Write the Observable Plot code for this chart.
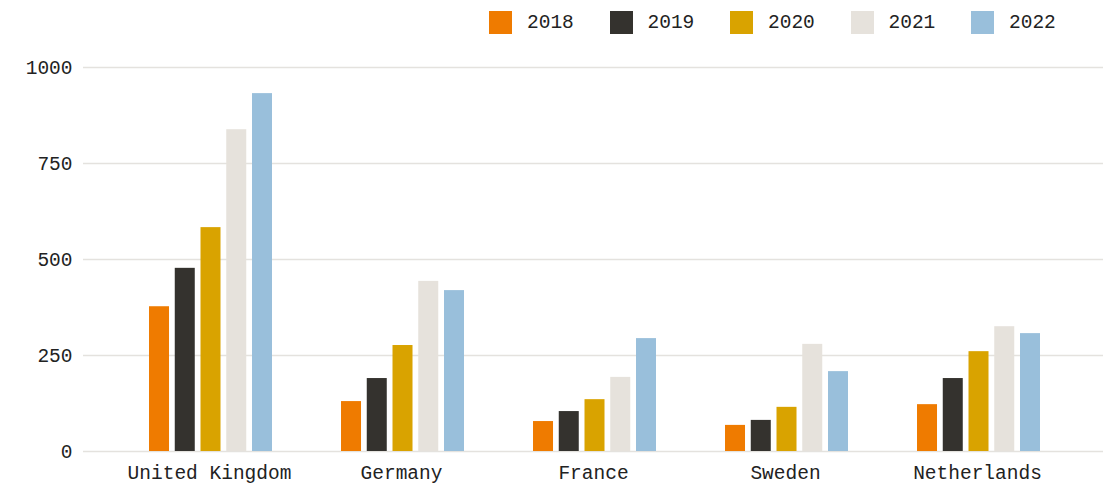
<!DOCTYPE html>
<html>
<head>
<meta charset="utf-8">
<script src="https://cdn.jsdelivr.net/npm/d3@7"></script>
<script src="https://cdn.jsdelivr.net/npm/@observablehq/plot@0.6"></script>
<style>
  html, body { margin: 0; padding: 0; background: #fff; }
  body { width: 1107px; height: 484px; overflow: hidden; font-family: "Liberation Mono", monospace; color: #222; }
  #legend { position: relative; height: 45px; }
  .item { position: absolute; top: 0; height: 45px; display: flex; align-items: center; font-size: 19.5px; }
  .sw { width: 23px; height: 23px; margin-right: 15px; }
</style>
</head>
<body>
<div id="legend"></div>
<div id="chart"></div>
<script>
const countries = ["United Kingdom", "Germany", "France", "Sweden", "Netherlands"];
const years = ["2018", "2019", "2020", "2021", "2022"];
const v2018 = [377, 130, 78, 68, 122];
const v2019 = [477, 190, 104, 81, 190];
const v2020 = [583, 276, 135, 115, 260];
const v2021 = [838, 443, 193, 279, 325];
const v2022 = [932, 419, 294, 208, 307];
const colors = ["#ef7b00", "#34322e", "#d9a300", "#e6e2dc", "#99bfdb"];
const yTicks = [0, 250, 500, 750, 1000];

const series = [v2018, v2019, v2020, v2021, v2022];
const data = years.flatMap((yr, i) => countries.map((c, j) => ({country: c, year: yr, value: series[i][j]})));

// legend
const legend = document.getElementById("legend");
years.forEach((yr, i) => {
  const it = document.createElement("div");
  it.className = "item";
  it.style.left = (489 + i * 120.5) + "px";
  const sw = document.createElement("div");
  sw.className = "sw";
  sw.style.background = colors[i];
  const t = document.createElement("span");
  t.textContent = yr;
  it.appendChild(sw); it.appendChild(t);
  legend.appendChild(it);
});

const W = 1107, ML = 83, MR = 4, PAD = 0.3125;
// outer band for countries (same as Plot's x scale), inner band to dodge years within a country
const outer = d3.scaleBand(countries, [ML, W - MR]).paddingInner(PAD).paddingOuter(PAD);
const inner = d3.scaleBand(years, [0, outer.bandwidth()]).paddingInner(0.223).paddingOuter(0.175).align(0.667);

const barMarks = years.map(yr => Plot.barY(data.filter(d => d.year === yr), {
  x: "country", y: "value", fill: "year",
  insetLeft: inner(yr),
  insetRight: outer.bandwidth() - inner(yr) - inner.bandwidth()
}));

const chart = Plot.plot({
  width: W,
  height: 439,
  marginTop: 22,
  marginBottom: 33,
  marginLeft: ML,
  marginRight: MR,
  style: {fontFamily: "Liberation Mono, monospace", fontSize: "19.5px", color: "#222", background: "#fff"},
  x: {domain: countries, padding: PAD, label: null},
  y: {domain: [0, 1000], label: null},
  color: {domain: years, range: colors},
  marks: [
    Plot.ruleY(yTicks, {stroke: "#e4e2de", strokeWidth: 1.3}),
    Plot.axisY({ticks: yTicks, tickSize: 0, tickPadding: 11, tickFormat: d => String(d), label: null, fill: "#222"}),
    Plot.axisX({anchor: "bottom", tickSize: 0, tickPadding: 14, label: null, fill: "#222"}),
    ...barMarks
  ]
});
document.getElementById("chart").appendChild(chart);
</script>
</body>
</html>
